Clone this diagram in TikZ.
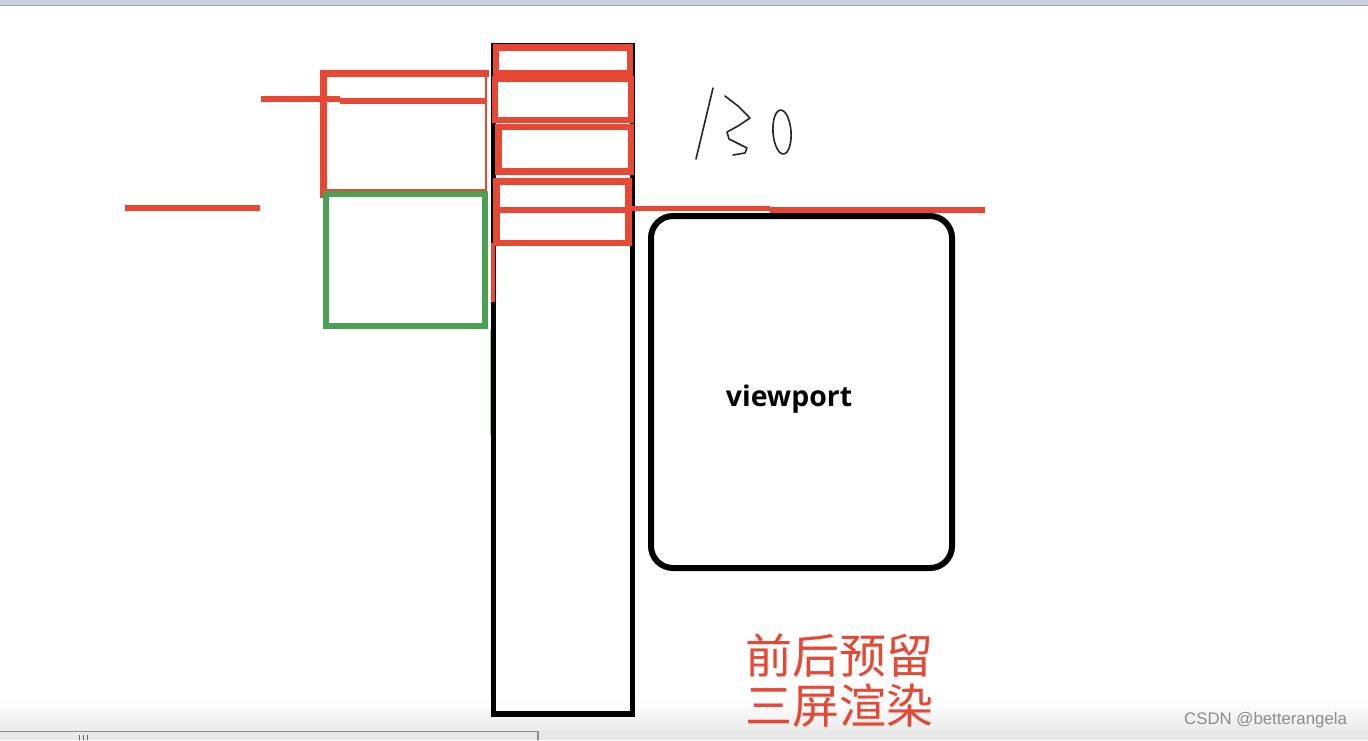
\documentclass[tikz,border=0pt]{standalone}
\usepackage{fontspec}
\setmainfont{Open Sans}
\newfontfamily\cjk{Noto Sans CJK SC}
\newfontfamily\wmfont{Liberation Sans}
\definecolor{penred}{RGB}{230,72,52}
\definecolor{pengreen}{RGB}{76,160,82}
\definecolor{topbar}{RGB}{200,208,226}
\begin{document}
\begin{tikzpicture}[x=0.5pt,y=-0.5pt,
  redpen/.style={draw=penred,line width=3.3pt},
  redline/.style={draw=penred,line width=2.6pt},
  blackpen/.style={draw=black,line width=2.6pt},
  greenpen/.style={draw=pengreen,line width=3pt},
  hand/.style={draw=black!85,line width=0.8pt,line join=round,line cap=round}]
\useasboundingbox (0,0) rectangle (1368,740);
\fill[white] (0,0) rectangle (1368,740);
% window chrome
\fill[topbar] (0,0) rectangle (1368,6);
\draw[color=topbar!80!black,line width=0.4pt] (0,5.6) -- (1368,5.6);
\shade[top color=white,bottom color=black!8] (0,700) rectangle (1368,731);
\fill[black!9] (0,731) rectangle (1368,740);
\draw[black!45,line width=0.6pt] (0,731.6) -- (538,731.6) -- (538,740);
\foreach \gx in {79,83,87} \draw[black!60,line width=0.5pt] (\gx,735) -- (\gx,740);
% tall black column
\draw[blackpen] (493.5,46) rectangle (632.5,714);
% red boxes on the column
\draw[redpen] (496,47.5) rectangle (630,73);
\draw[redpen,line width=3pt] (495,79) rectangle (630.5,120);
\draw[redpen] (498.5,127) rectangle (631,171.5);
\draw[redpen] (496.5,181.5) rectangle (628.5,210);
\draw[redpen] (496.5,210) rectangle (628.5,243);
\draw[redline,line width=2pt] (493,243) -- (493,302);
% left red box and green box
\draw[redline,line width=1.4pt] (486,73.5) -- (486,190) -- (323.5,190);
\draw[redpen,line cap=rect] (323.5,195) -- (323.5,73.5) -- (486,73.5);
\draw[redline] (261,99) -- (340,99);
\draw[redline,line width=3pt] (340,100.5) -- (485,100.5);
\draw[greenpen] (326,193.5) rectangle (484.5,326);
\draw[draw=pengreen!60,line width=0.5pt] (490,330) -- (490,435);
% left horizontal red dash
\draw[redline] (125,208) -- (260,208);
% viewport
\draw[blackpen,line width=3pt,rounded corners=11pt] (651,216) rectangle (952,568);
\node (vp) at (789,399) {\fontsize{14.2}{16}\selectfont\bfseries viewport};
% line across to the right
\draw[redline] (625,208.5) -- (770,208.5);
\draw[redline] (770,210) -- (985,210);
% handwritten 130
\draw[hand] (713,88) -- (696,159);
\draw[hand] (725,96) -- (738,106) -- (750,118) -- (738,126) -- (727,132) -- (729,139) -- (747,148) -- (745,153) -- (733,155);
\draw[hand,rotate around={4:(782,132)}] (782,132) ellipse [x radius=9,y radius=22];
% note
\node[text=penred,align=center,font=\cjk\fontsize{23.5}{25}\selectfont] (note) at (839,681) {前后预留\\三屏渲染};
% watermark
\node[anchor=east,text=black!45,font=\wmfont\fontsize{8.4}{9}\selectfont] (wm) at (1354,720) {CSDN @betterangela};
\end{tikzpicture}
\end{document}
